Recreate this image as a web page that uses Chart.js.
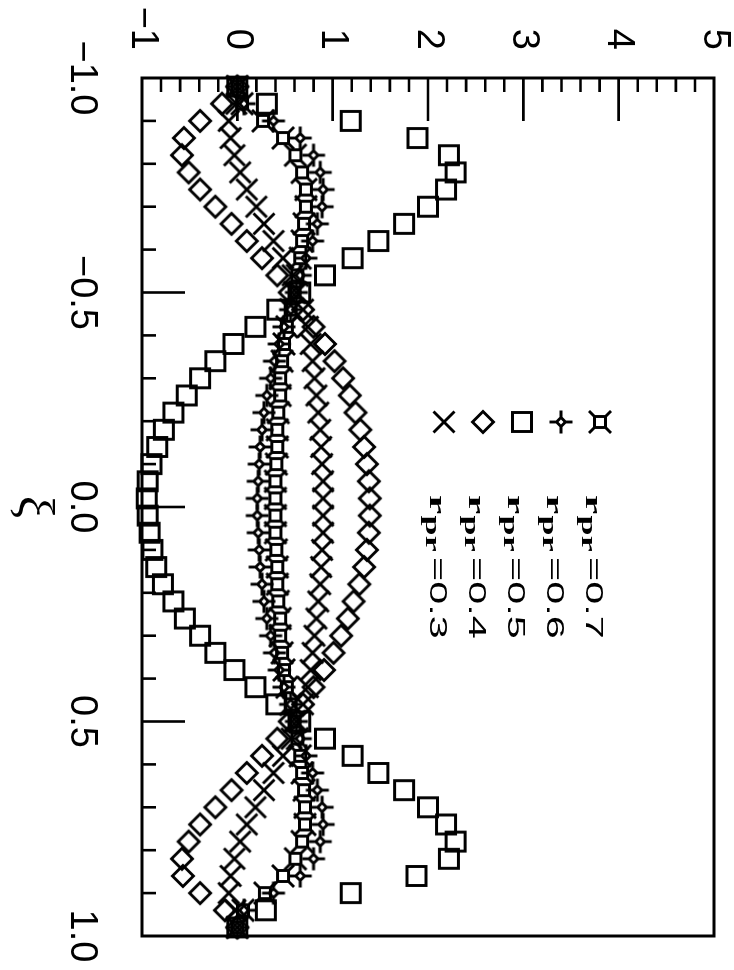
<!DOCTYPE html>
<html>
<head>
<meta charset="utf-8">
<script src="https://cdn.jsdelivr.net/npm/chart.js@4.4.0/dist/chart.umd.min.js"></script>
<style>
html, body { margin: 0; padding: 0; background: #fff; overflow: hidden; }
/* chart is drawn landscape, then turned a quarter clockwise like the original page */
#wrap { position: absolute; left: 0; top: 0; width: 970px; height: 734px;
        transform-origin: 0 0; transform: translate(734px, 0) rotate(90deg); }
</style>
</head>
<body>
<div id="wrap"><canvas id="mycanvas" width="970" height="734"></canvas></div>
<script>
var xi = [-0.98,-0.94,-0.90,-0.86,-0.82,-0.78,-0.74,-0.70,-0.66,-0.62,-0.58,-0.54,-0.50,-0.46,-0.42,-0.38,-0.34,-0.30,-0.26,-0.22,-0.18,-0.14,-0.10,-0.06,-0.02,
          0.02,0.06,0.10,0.14,0.18,0.22,0.26,0.30,0.34,0.38,0.42,0.46,0.50,0.54,0.58,0.62,0.66,0.70,0.74,0.78,0.82,0.86,0.90,0.94,0.98];

var r07 = [0.00,0.05,0.27,0.48,0.61,0.68,0.72,0.72,0.70,0.68,0.66,0.63,0.60,0.56,0.52,0.49,0.47,0.45,0.45,0.43,0.42,0.42,0.41,0.40,0.40,
           0.40,0.40,0.41,0.42,0.42,0.43,0.45,0.45,0.47,0.49,0.52,0.56,0.60,0.63,0.66,0.68,0.70,0.71,0.71,0.68,0.61,0.48,0.29,0.06,0.00];
var r06 = [0.00,0.07,0.38,0.66,0.80,0.87,0.90,0.89,0.84,0.79,0.72,0.66,0.62,0.56,0.49,0.44,0.39,0.35,0.31,0.28,0.26,0.24,0.23,0.22,0.21,
           0.21,0.22,0.23,0.24,0.26,0.28,0.31,0.35,0.39,0.44,0.49,0.56,0.62,0.66,0.72,0.79,0.84,0.89,0.90,0.87,0.80,0.66,0.38,0.07,0.00];
var r05 = [0.00,0.31,1.19,1.89,2.22,2.29,2.19,2.00,1.75,1.48,1.21,0.92,0.66,0.42,0.19,-0.04,-0.23,-0.39,-0.53,-0.67,-0.77,-0.84,-0.90,-0.94,-0.95,
           -0.94,-0.92,-0.89,-0.85,-0.78,-0.67,-0.55,-0.39,-0.23,-0.03,0.19,0.41,0.66,0.92,1.21,1.48,1.75,2.00,2.19,2.29,2.22,1.88,1.19,0.30,0.00];
var r04 = [0.00,-0.16,-0.39,-0.56,-0.58,-0.51,-0.39,-0.23,-0.06,0.10,0.26,0.42,0.55,0.69,0.80,0.92,1.02,1.11,1.18,1.24,1.29,1.33,1.36,1.38,1.39,
           1.39,1.38,1.36,1.33,1.28,1.22,1.16,1.09,1.01,0.91,0.80,0.69,0.55,0.42,0.26,0.10,-0.06,-0.23,-0.39,-0.51,-0.58,-0.57,-0.39,-0.13,0.00];
var r03 = [0.00,-0.01,-0.09,-0.07,-0.03,0.03,0.10,0.20,0.28,0.38,0.48,0.58,0.62,0.69,0.74,0.77,0.79,0.81,0.83,0.85,0.87,0.88,0.89,0.90,0.90,
           0.90,0.90,0.89,0.88,0.87,0.85,0.83,0.81,0.79,0.77,0.74,0.69,0.62,0.57,0.48,0.38,0.28,0.19,0.10,0.03,-0.03,-0.07,-0.09,-0.02,0.00];

var seriesLabels = ['0.7', '0.6', '0.5', '0.4', '0.3'];
var yTicks = [-1, 0, 1, 2, 3, 4, 5];

// marker images
function mk(draw) {
    var c = document.createElement('canvas');
    c.width = 30; c.height = 30;
    var g = c.getContext('2d');
    g.strokeStyle = '#000';
    g.lineWidth = 2.9;
    g.translate(15, 15);
    g.beginPath();
    draw(g);
    g.stroke();
    return c;
}
var mBoxStar = mk(function (g) {
    g.rect(-5.5, -5.5, 11, 11);
    g.moveTo(-5.5, -5.5); g.lineTo(-11, -11);
    g.moveTo(5.5, -5.5); g.lineTo(11, -11);
    g.moveTo(5.5, 5.5); g.lineTo(11, 11);
    g.moveTo(-5.5, 5.5); g.lineTo(-11, 11);
});
var mStar = mk(function (g) {
    g.moveTo(0, -4.5); g.lineTo(4.5, 0); g.lineTo(0, 4.5); g.lineTo(-4.5, 0); g.closePath();
    g.moveTo(0, -4.5); g.lineTo(0, -11.5);
    g.moveTo(0, 4.5); g.lineTo(0, 11.5);
    g.moveTo(-4.5, 0); g.lineTo(-11.5, 0);
    g.moveTo(4.5, 0); g.lineTo(11.5, 0);
});
var mSquare = mk(function (g) { g.rect(-9.5, -9.5, 19, 19); });
var mDiamond = mk(function (g) {
    g.moveTo(0, -10.5); g.lineTo(10.5, 0); g.lineTo(0, 10.5); g.lineTo(-10.5, 0); g.closePath();
});
var mCross = mk(function (g) {
    g.moveTo(-10.5, -10.5); g.lineTo(10.5, 10.5);
    g.moveTo(10.5, -10.5); g.lineTo(-10.5, 10.5);
});
var markers = [mBoxStar, mStar, mSquare, mDiamond, mCross];

function pts(vals) {
    return xi.map(function (x, i) { return { x: x, y: vals[i] }; });
}
function minus(v, d) {
    var s = Math.abs(v).toFixed(d);
    return v < -1e-9 ? '\u2212' + s : s;
}

// frame, inward ticks and the legend block
var frameTicks = {
    id: 'frameTicks',
    afterDraw: function (chart) {
        var ctx = chart.ctx, a = chart.chartArea;
        var sx = chart.scales.x, sy = chart.scales.y;
        var k, v, p, len;
        ctx.save();
        ctx.strokeStyle = '#000';
        ctx.lineWidth = 3;
        ctx.strokeRect(a.left, a.top, a.right - a.left, a.bottom - a.top);
        ctx.lineWidth = 2.6;
        ctx.beginPath();
        for (k = 1; k < 20; k++) {
            v = -1 + k * 0.1;
            p = sx.getPixelForValue(v);
            len = (k % 5 === 0) ? 43 : 14;
            ctx.moveTo(p, a.bottom); ctx.lineTo(p, a.bottom - len);
        }
        for (k = 1; k < 30; k++) {
            v = -1 + k * 0.2;
            p = sy.getPixelForValue(v);
            len = (k % 5 === 0) ? 43 : 14;
            ctx.moveTo(a.left, p); ctx.lineTo(a.left + len, p);
        }
        ctx.stroke();

        ctx.fillStyle = '#000';
        ctx.textBaseline = 'alphabetic';
        for (k = 0; k < seriesLabels.length; k++) {
            var base = 148 + 39 * k;
            var img = markers[k];
            ctx.drawImage(img, 422 - img.width / 2, base - 14 - img.height / 2);
            ctx.save();
            ctx.translate(495, base);
            ctx.scale(1.8, 1);
            var x = 0;
            ctx.font = 'bold 24px "Liberation Serif"';
            ctx.fillText('r', x, 0);
            x += ctx.measureText('r').width + 0.8;
            ctx.font = 'bold 20px "Liberation Serif"';
            ctx.fillText('pr', x, 4);
            x += ctx.measureText('pr').width + 3;
            ctx.font = '23px "Liberation Sans"';
            ctx.fillText('=' + seriesLabels[k], x, 0);
            ctx.restore();
        }
        ctx.restore();
    }
};

var series = [r07, r06, r05, r04, r03];
var datasets = series.map(function (s, i) {
    return {
        label: 'r_pr=' + seriesLabels[i],
        data: pts(s),
        pointStyle: markers[i],
        showLine: false,
        clip: false
    };
});

var tickFont = { family: 'Liberation Sans', size: 38, lineHeight: 1.0 };

new Chart(document.getElementById('mycanvas'), {
    type: 'scatter',
    data: { datasets: datasets },
    options: {
        responsive: false,
        animation: false,
        layout: { padding: { top: 20, right: 34, left: 0, bottom: 0 } },
        plugins: { legend: { display: false }, tooltip: { enabled: false } },
        scales: {
            x: {
                type: 'linear', min: -1, max: 1,
                grid: { display: false, drawTicks: false },
                border: { display: false },
                ticks: {
                    stepSize: 0.5, color: '#000', font: tickFont, padding: 42, maxRotation: 0,
                    callback: function (v) { return minus(v, 1); }
                },
                title: {
                    display: true, text: '\u03be', color: '#000',
                    font: { family: 'Liberation Serif', size: 50 },
                    padding: { top: 0, bottom: 2 }
                },
                afterFit: function (s) {
                    s.height = 142;
                    s.paddingLeft = 0; s.paddingRight = 0;
                }
            },
            y: {
                type: 'linear', min: yTicks[0], max: yTicks[yTicks.length - 1],
                grid: { display: false, drawTicks: false },
                border: { display: false },
                ticks: {
                    stepSize: 1, color: '#000', font: tickFont, padding: 28,
                    callback: function (v) { return minus(v, 0); }
                },
                afterFit: function (s) {
                    s.width = 78;
                    s.paddingTop = 0; s.paddingBottom = 0;
                }
            }
        }
    },
    plugins: [frameTicks]
});
</script>
</body>
</html>
